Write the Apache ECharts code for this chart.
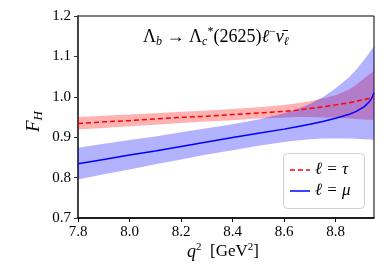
<!DOCTYPE html>
<html><head><meta charset="utf-8">
<script src="https://cdn.jsdelivr.net/npm/echarts@6/dist/echarts.min.js"></script>
<style>html,body{margin:0;padding:0;background:#fff}#c{width:390px;height:273px}</style>
</head><body><div id="c"></div>
<script>
const q2 = [7.8, 7.9, 8.0, 8.1, 8.2, 8.3, 8.4, 8.5, 8.6, 8.65, 8.7, 8.75, 8.8, 8.85, 8.88, 8.91, 8.93, 8.94, 8.949];
const tauCentral = [0.934, 0.938, 0.941, 0.945, 0.949, 0.952, 0.956, 0.960, 0.964, 0.967, 0.971, 0.975, 0.980, 0.985, 0.989, 0.993, 0.996, 0.998, 1.001];
const tauUpper = [0.950, 0.953, 0.956, 0.959, 0.963, 0.966, 0.970, 0.974, 0.980, 0.984, 0.989, 0.996, 1.004, 1.017, 1.030, 1.045, 1.055, 1.060, 1.066];
const tauLower = [0.919, 0.923, 0.927, 0.931, 0.935, 0.939, 0.942, 0.946, 0.949, 0.950, 0.950, 0.949, 0.948, 0.946, 0.945, 0.944, 0.943, 0.943, 0.942];
const muCentral = [0.834, 0.845, 0.856, 0.866, 0.877, 0.888, 0.899, 0.910, 0.920, 0.926, 0.932, 0.939, 0.947, 0.956, 0.964, 0.975, 0.987, 0.996, 1.010];
const muUpper = [0.874, 0.884, 0.893, 0.902, 0.912, 0.922, 0.932, 0.944, 0.959, 0.969, 0.982, 0.999, 1.021, 1.047, 1.067, 1.091, 1.108, 1.117, 1.125];
const muLower = [0.795, 0.808, 0.820, 0.833, 0.845, 0.857, 0.868, 0.879, 0.888, 0.892, 0.895, 0.897, 0.897, 0.897, 0.896, 0.895, 0.894, 0.894, 0.893];
const xTicks = [7.8, 8.0, 8.2, 8.4, 8.6, 8.8];
const yTicks = [0.7, 0.8, 0.9, 1.0, 1.1, 1.2];
const labelTau = 'ℓ = τ';
const labelMu = 'ℓ = μ';

const serif = '"Liberation Serif", "DejaVu Serif", serif';

function bandSeries(lo, hi, fill, z) {
  return {
    type: 'custom', z: z, silent: true,
    data: q2.map((x, i) => [x, lo[i], hi[i]]),
    encode: { x: 0, y: [1, 2] },
    renderItem: function (params, api) {
      if (params.dataIndex !== 0) return null;
      const pts = [];
      for (let i = 0; i < q2.length; i++) pts.push(api.coord([q2[i], hi[i]]));
      for (let i = q2.length - 1; i >= 0; i--) pts.push(api.coord([q2[i], lo[i]]));
      return { type: 'polygon', shape: { points: pts }, style: { fill: fill, stroke: null } };
    }
  };
}

const chart = echarts.init(document.getElementById('c'), null, { renderer: 'canvas' });
chart.setOption({
  animation: false,
  backgroundColor: '#fff',
  grid: { left: 78, right: 16, top: 16, bottom: 55, show: true, borderColor: '#000', borderWidth: 1, backgroundColor: 'transparent' },
  xAxis: {
    type: 'value', min: 7.8, max: 8.949,
    axisLine: { show: true, onZero: false, lineStyle: { color: '#000', width: 1.5 } },
    axisTick: { show: true, customValues: xTicks, length: 4, lineStyle: { color: '#000', width: 1 } },
    axisLabel: { customValues: xTicks, formatter: v => v.toFixed(1), fontFamily: serif, fontSize: 15, color: '#000', margin: 7 },
    splitLine: { show: false }
  },
  yAxis: {
    type: 'value', min: 0.7, max: 1.2,
    axisLine: { show: true, onZero: false, lineStyle: { color: '#444', width: 2 } },
    axisTick: { show: true, customValues: yTicks, length: 4, lineStyle: { color: '#333', width: 1 } },
    axisLabel: { customValues: yTicks, formatter: v => v.toFixed(1), fontFamily: serif, fontSize: 15, color: '#000', margin: 7 },
    splitLine: { show: false }
  },
  graphic: [
    {
      type: 'text', left: 143, top: 26,
      style: {
        text: 'Λ{s|b} → Λ{s|c}{p|*}(2625){i|ℓ}{p|−}{i|ν̄}{s|ℓ}',
        fontFamily: serif, fontSize: 18, fill: '#000',
        rich: {
          s: { fontFamily: serif, fontStyle: 'italic', fontSize: 12, padding: [10, 0, 0, 0] },
          p: { fontFamily: serif, fontSize: 12, padding: [0, 0, 10, 0] },
          i: { fontFamily: serif, fontStyle: 'italic', fontSize: 18 }
        }
      }
    },
    {
      type: 'text', x: 22, y: 132, rotation: Math.PI / 2,
      style: {
        text: '{i|F}{s|H}', fontFamily: serif, fontSize: 19, fill: '#000',
        rich: {
          i: { fontFamily: serif, fontStyle: 'italic', fontSize: 19 },
          s: { fontFamily: serif, fontStyle: 'italic', fontSize: 13, padding: [10, 0, 0, 0] }
        }
      }
    },
    {
      type: 'text', left: 187, top: 242,
      style: {
        text: '{i|q}{p|2}  [GeV{p|2}]', fontFamily: serif, fontSize: 17, fill: '#000',
        rich: {
          i: { fontFamily: serif, fontStyle: 'italic', fontSize: 18 },
          p: { fontFamily: serif, fontSize: 11, padding: [0, 0, 9, 0] }
        }
      }
    },
    {
      type: 'group', z: 100,
      children: [
        { type: 'rect', shape: { x: 283.5, y: 153.5, width: 81, height: 55, r: 4 }, style: { fill: 'rgba(255,255,255,0.85)', stroke: '#d0d0d0', lineWidth: 1 } },
        { type: 'line', shape: { x1: 290, y1: 170, x2: 310, y2: 170 }, style: { stroke: '#ff0000', lineWidth: 1.5, lineDash: [5, 3] } },
        { type: 'line', shape: { x1: 290, y1: 191, x2: 310, y2: 191 }, style: { stroke: '#0000ff', lineWidth: 1.5 } },
        { type: 'text', x: 315, y: 170, style: { text: labelTau, fontFamily: serif, fontStyle: 'italic', fontSize: 17, fill: '#000', verticalAlign: 'middle' } },
        { type: 'text', x: 315, y: 191, style: { text: labelMu, fontFamily: serif, fontStyle: 'italic', fontSize: 17, fill: '#000', verticalAlign: 'middle' } }
      ]
    }
  ],
  series: [
    bandSeries(tauLower, tauUpper, 'rgba(255,0,0,0.3)', 1),
    bandSeries(muLower, muUpper, 'rgba(0,0,255,0.3)', 2),
    {
      name: labelTau, type: 'line', z: 5, symbol: 'none', smooth: false,
      data: q2.map((x, i) => [x, tauCentral[i]]),
      lineStyle: { color: '#ff0000', width: 1.5, type: [5, 3] }, itemStyle: { color: '#ff0000' }
    },
    {
      name: labelMu, type: 'line', z: 6, symbol: 'none', smooth: false,
      data: q2.map((x, i) => [x, muCentral[i]]),
      lineStyle: { color: '#0000ff', width: 1.5 }, itemStyle: { color: '#0000ff' }
    }
  ]
});
</script></body></html>
